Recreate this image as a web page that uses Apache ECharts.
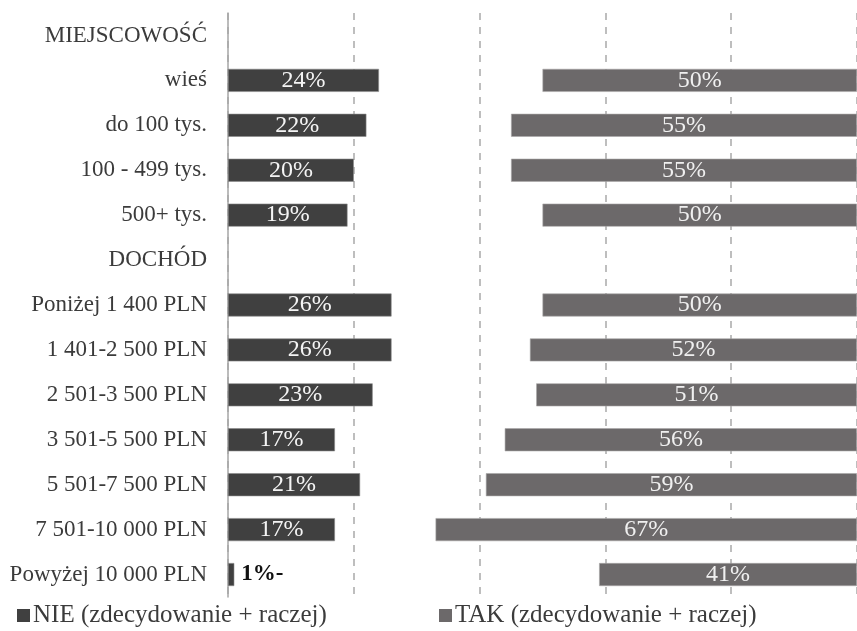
<!DOCTYPE html>
<html>
<head>
<meta charset="utf-8">
<script src="https://cdn.jsdelivr.net/npm/echarts@6/dist/echarts.min.js"></script>
<style>
  html, body { margin: 0; padding: 0; background: #ffffff; }
  #chart { width: 857px; height: 631px; }
</style>
</head>
<body>
<div id="chart"></div>
<script>
// Row labels, top to bottom (section headers have no bars)
const categories = [
  'MIEJSCOWOŚĆ', 'wieś', 'do 100 tys.', '100 - 499 tys.', '500+ tys.',
  'DOCHÓD', 'Poniżej 1 400 PLN', '1 401-2 500 PLN', '2 501-3 500 PLN',
  '3 501-5 500 PLN', '5 501-7 500 PLN', '7 501-10 000 PLN', 'Powyżej 10 000 PLN'
];
// Share answering NIE (%), null for header rows
const nieValues = [null, 24, 22, 20, 19, null, 26, 26, 23, 17, 21, 17, 1];
// Share answering TAK (%), null for header rows
const takValues = [null, 50, 55, 55, 50, null, 50, 52, 51, 56, 59, 67, 41];
const seriesNames = ['NIE (zdecydowanie + raczej)', 'TAK (zdecydowanie + raczej)'];
const xTicks = [0, 20, 40, 60, 80, 100];

const serif = '"Liberation Serif", "Times New Roman", serif';
const nieColor = '#404040';
const takColor = '#6c696a';

// NIE bars start at 0; TAK bars are right-aligned to 100%
const nieData = nieValues.map(function (v, i) {
  if (v === null) return '-';
  if (i === categories.length - 1) {
    return {
      value: v,
      label: {
        position: 'right', distance: 7, color: '#111111', fontWeight: 'bold',
        fontSize: 23, formatter: '{c}%-'
      }
    };
  }
  return v;
});
const offsetData = takValues.map(function (v) { return v === null ? '-' : 100 - v; });
const takData = takValues.map(function (v) { return v === null ? '-' : v; });

const chart = echarts.init(document.getElementById('chart'), null, { renderer: 'canvas' });

const legendText = { fontFamily: serif, fontSize: 25, color: '#3b3b3b', padding: [2, 0, 0, -2] };

chart.setOption({
  animation: false,
  backgroundColor: '#ffffff',
  grid: { left: 228, right: -4, top: 13, bottom: 34, containLabel: false },
  xAxis: {
    type: 'value',
    min: xTicks[0],
    max: xTicks[xTicks.length - 1],
    interval: 20,
    axisLine: { show: false },
    axisTick: { show: false },
    axisLabel: { show: false },
    splitLine: {
      show: true,
      lineStyle: { color: '#a9a9a9', width: 1.5, type: [7, 7] }
    }
  },
  yAxis: {
    type: 'category',
    data: categories,
    inverse: true,
    axisTick: { show: false },
    axisLine: { show: true, lineStyle: { color: '#a6a6a6', width: 1.5 } },
    axisLabel: {
      margin: 21,
      fontFamily: serif,
      fontSize: 23,
      color: '#3b3b3b'
    }
  },
  legend: [
    {
      data: [seriesNames[0]],
      left: 17, top: 603, padding: 0,
      icon: 'rect', itemWidth: 13, itemHeight: 13, itemGap: 0,
      itemStyle: { borderWidth: 0 },
      textStyle: legendText
    },
    {
      data: [seriesNames[1]],
      left: 439, top: 603, padding: 0,
      icon: 'rect', itemWidth: 13, itemHeight: 13, itemGap: 0,
      itemStyle: { borderWidth: 0 },
      textStyle: legendText
    }
  ],
  series: [
    {
      name: seriesNames[0],
      type: 'bar',
      stack: 'nie',
      data: nieData,
      barWidth: 23,
      barGap: '-100%',
      itemStyle: { color: nieColor, borderColor: '#8a8a8a', borderWidth: 0.6 },
      label: {
        show: true,
        position: 'inside',
        formatter: '{c}%',
        fontFamily: serif,
        fontSize: 24,
        color: '#f4f4f4'
      }
    },
    {
      name: 'offset',
      type: 'bar',
      stack: 'tak',
      data: offsetData,
      barWidth: 23,
      barGap: '-100%',
      silent: true,
      itemStyle: { color: 'rgba(0,0,0,0)' },
      label: { show: false },
      tooltip: { show: false }
    },
    {
      name: seriesNames[1],
      type: 'bar',
      stack: 'tak',
      data: takData,
      barWidth: 23,
      barGap: '-100%',
      itemStyle: { color: takColor, borderColor: '#a9a7a8', borderWidth: 0.6 },
      label: {
        show: true,
        position: 'inside',
        formatter: '{c}%',
        fontFamily: serif,
        fontSize: 24,
        color: '#f0f0f0'
      }
    }
  ]
});
</script>
</body>
</html>
